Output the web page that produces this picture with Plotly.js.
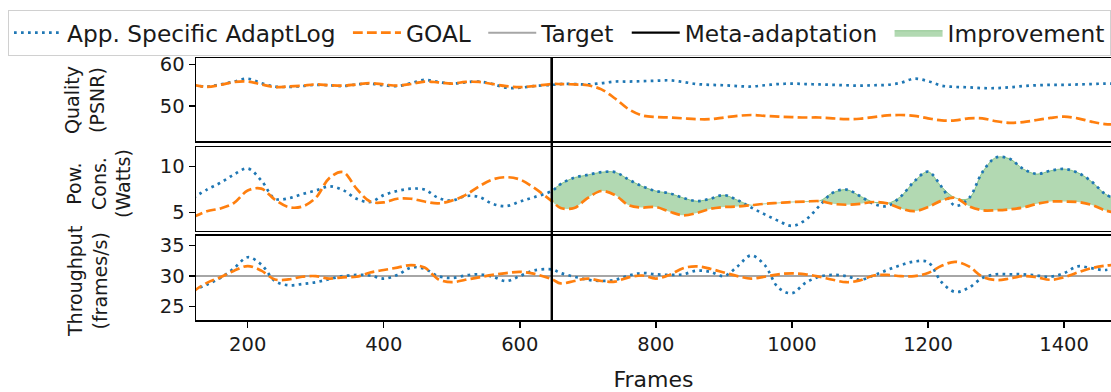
<!DOCTYPE html>
<html>
<head>
<meta charset="utf-8">
<script src="https://cdn.plot.ly/plotly-3.0.1.min.js"></script>
<style>html,body{margin:0;padding:0;background:#fff;}#chart{width:1111px;height:392px;}</style>
</head>
<body>
<div id="chart"></div>
<script>
// ---- data ----
const frames = [
  120,140,160,180,200,220,240,260,280,300,320,340,360,380,400,420,440,460,480,500,520,540,560,580,600,620,
  647,
  660,680,700,720,740,760,780,800,820,840,860,880,900,920,940,960,980,1000,1020,1040,
  1060,1080,1100,1120,1140,1160,1180,1200,1220,1240,1260,1280,1300,1320,1340,1360,1380,1400,1420,1440,1460,1480
];
const metaAdaptationFrame = 647;
const throughputTarget = 30;

const qualityAdaptLog = [
  55.0,54.7,55.2,55.9,56.6,55.5,54.7,54.6,54.8,55.1,55.0,54.8,55.2,55.4,55.0,54.8,55.5,56.3,55.8,55.4,55.7,55.9,55.3,54.4,54.4,54.8,
  55.1,
  55.3,55.3,55.2,55.5,55.9,55.9,56.0,56.1,56.2,55.8,55.3,55.1,55.0,54.8,54.7,55.0,55.3,55.4,55.3,55.2,
  55.1,55.0,54.9,55.0,55.1,55.6,56.6,56.0,54.9,54.6,54.5,54.3,54.3,54.5,54.8,55.0,55.1,55.1,55.2,55.3,55.4,55.4
];
const qualityGoal = [
  55.1,54.6,55.1,55.8,55.9,55.2,54.55,54.7,54.9,55.2,55.0,54.9,55.2,55.5,55.2,54.9,55.3,55.9,55.7,55.4,55.8,55.8,55.3,54.8,54.55,54.8,
  55.3,
  55.3,55.2,55.0,54.0,51.8,49.2,47.7,47.3,47.2,47.0,46.8,46.8,47.2,47.6,47.8,47.6,47.4,47.3,47.2,47.2,
  47.0,46.8,46.9,47.3,47.7,47.8,47.6,47.0,46.5,46.5,47.0,47.0,46.3,45.9,46.1,46.6,47.1,47.4,47.0,46.2,45.6,45.5
];
const powerAdaptLog = [
  6.6,7.5,8.25,9.15,9.8,8.5,6.5,6.55,7.0,7.4,7.85,7.45,6.5,6.15,6.9,7.35,7.6,7.5,6.6,6.3,6.8,6.7,5.95,5.7,6.2,6.65,
  7.35,
  8.1,8.8,9.1,9.4,9.4,8.6,7.85,7.35,7.1,6.6,6.25,6.5,6.9,6.35,5.55,4.8,4.1,3.55,4.2,5.7,
  7.15,7.5,6.8,5.95,5.7,6.75,8.4,9.45,7.8,5.75,6.55,9.4,11.0,10.85,9.75,9.2,9.55,9.75,9.35,8.4,7.05,6.3
];
const powerGoal = [
  4.5,5.15,5.45,6.05,7.4,7.6,6.4,5.6,5.65,6.6,8.75,9.4,7.6,6.2,6.1,6.5,6.5,6.2,6.0,6.3,6.9,7.85,8.6,8.85,8.6,7.75,
  6.25,
  5.5,5.5,6.6,7.35,6.9,5.8,5.55,5.6,5.1,4.7,4.95,5.4,5.6,5.65,5.8,5.95,6.05,6.15,6.2,6.25,
  5.95,5.85,5.95,6.15,6.0,5.45,5.15,5.6,6.3,6.6,5.7,5.25,5.25,5.35,5.55,5.95,6.2,6.2,6.15,5.85,5.25,4.9
];
const throughputAdaptLog = [
  27.7,28.6,29.7,31.3,33.1,31.9,29.2,28.5,28.7,29.0,29.5,30.0,30.2,30.1,29.6,30.2,31.4,31.2,30.0,29.7,30.1,30.3,29.9,29.2,30.0,30.9,
  31.1,
  30.5,29.9,29.4,29.2,29.4,30.1,30.5,30.3,30.2,30.3,30.9,30.7,30.0,31.6,33.4,31.8,28.1,27.2,28.9,29.9,
  30.2,30.0,29.4,30.1,31.0,31.8,32.4,32.3,29.0,27.4,28.1,29.7,30.3,30.3,30.3,30.1,29.9,30.5,31.6,31.3,31.0,31.5
];
const throughputGoal = [
  27.5,28.9,29.8,30.9,31.65,30.9,29.45,29.45,29.9,30.0,29.6,29.8,29.9,30.6,31.0,31.4,31.8,31.4,29.5,29.0,29.4,29.8,30.2,30.5,30.7,30.4,
  29.5,
  28.8,29.2,29.6,29.2,29.1,29.8,30.1,29.6,30.2,31.3,31.6,31.2,30.6,30.0,29.6,29.9,30.3,30.45,30.3,29.9,
  29.4,29.0,29.3,30.1,30.2,30.0,30.0,30.5,31.7,32.35,31.6,29.9,29.35,29.6,30.0,29.8,29.4,29.8,30.6,31.3,31.7,31.9
];

const xRange = [124, 1469];
const qualityRange = [41.5, 61.6];
const powerRange = [3.0, 12.1];
const throughputRange = [22.8, 36.6];

// ---- styles ----
const FONT = 'DejaVu Sans, sans-serif';
const BLUE = '#1f77b4', ORANGE = '#ff7f0e';
const blueLine = {color: BLUE, width: 2.7, dash: '2.7px,4.3px', shape: 'spline', smoothing: 1};
const orangeLine = {color: ORANGE, width: 2.7, dash: '9.8px,4.2px', shape: 'spline', smoothing: 1};
const metaLine = {color: '#000', width: 2.4};
const SP = '\u00a0'; // extra spacing after legend labels, as in the reference legend

// improvement region (after meta-adaptation, where AdaptLog consumes more than GOAL)
const impX = [], impLow = [], impHigh = [];
frames.forEach((f, i) => {
  if (f >= metaAdaptationFrame) {
    impX.push(f);
    impLow.push(powerGoal[i]);
    impHigh.push(Math.max(powerAdaptLog[i], powerGoal[i]));
  }
});

const traces = [
  // improvement fill (panel 2)
  {x: impX, y: impLow, xaxis: 'x2', yaxis: 'y2', mode: 'lines', showlegend: false, hoverinfo: 'skip',
   line: {width: 0, shape: 'spline', smoothing: 1}},
  {x: impX, y: impHigh, xaxis: 'x2', yaxis: 'y2', mode: 'lines', fill: 'tonexty', name: 'Improvement',
   legendrank: 5, fillcolor: 'rgba(0,128,0,0.3)', line: {width: 1, color: 'rgba(0,128,0,0.35)', shape: 'spline', smoothing: 1}},
  // target (panel 3)
  {x: xRange, y: [throughputTarget, throughputTarget], xaxis: 'x', yaxis: 'y', mode: 'lines', name: 'Target' + SP,
   legendrank: 3, line: {color: '#a6a6a6', width: 2}},
  // quality (panel 1)
  {x: frames, y: qualityAdaptLog, xaxis: 'x3', yaxis: 'y3', mode: 'lines', name: 'App. Specific AdaptLog' + SP, legendrank: 1, line: blueLine},
  {x: frames, y: qualityGoal, xaxis: 'x3', yaxis: 'y3', mode: 'lines', name: 'GOAL' + SP, legendrank: 2, line: orangeLine},
  // power (panel 2)
  {x: frames, y: powerAdaptLog, xaxis: 'x2', yaxis: 'y2', mode: 'lines', showlegend: false, line: blueLine},
  {x: frames, y: powerGoal, xaxis: 'x2', yaxis: 'y2', mode: 'lines', showlegend: false, line: orangeLine},
  // throughput (panel 3)
  {x: frames, y: throughputAdaptLog, xaxis: 'x', yaxis: 'y', mode: 'lines', showlegend: false, line: blueLine},
  {x: frames, y: throughputGoal, xaxis: 'x', yaxis: 'y', mode: 'lines', showlegend: false, line: orangeLine},
  // meta-adaptation (legend entry; the full-height line is a layout shape)
  {x: [metaAdaptationFrame, metaAdaptationFrame], y: qualityRange, xaxis: 'x3', yaxis: 'y3', mode: 'lines',
   name: 'Meta-adaptation' + SP, legendrank: 4, line: metaLine}
];

const axisCommon = {showline: true, linecolor: '#000', linewidth: 1.5, showgrid: false, zeroline: false,
  ticks: 'outside', ticklen: 6, tickwidth: 1.4, tickcolor: '#000',
  tickfont: {family: FONT, size: 19.5, color: '#1a1a1a'}};

const xHidden = Object.assign({}, axisCommon, {matches: 'x', range: xRange, mirror: true, ticks: '', showticklabels: false});

const L = 196, W = 915, T = 58, PH = 262;
const px2x = p => (p - L) / W;
const py2y = p => (T + PH - p) / PH;

const layout = {
  width: 1111, height: 392,
  margin: {l: L, r: 0, t: T, b: 392 - T - PH},
  paper_bgcolor: '#fff', plot_bgcolor: '#fff',
  font: {family: FONT, color: '#1a1a1a'},
  showlegend: true,
  legend: {orientation: 'h', x: px2x(12), xanchor: 'left', y: py2y(33), yanchor: 'middle',
    bgcolor: '#fff', bordercolor: '#d0d0d0', borderwidth: 1,
    font: {family: FONT, size: 23.3, color: '#1a1a1a'}, itemwidth: 48, traceorder: 'normal'},
  xaxis: Object.assign({}, axisCommon, {domain: [0, 1], anchor: 'y', range: xRange, mirror: true,
    tickvals: [200, 400, 600, 800, 1000, 1200, 1400],
    title: {text: 'Frames', font: {family: FONT, size: 22, color: '#1a1a1a'}, standoff: 20}}),
  xaxis2: Object.assign({}, xHidden, {anchor: 'y2'}),
  xaxis3: Object.assign({}, xHidden, {anchor: 'y3'}),
  yaxis: Object.assign({}, axisCommon, {domain: [0, 0.321], anchor: 'x', range: throughputRange, tickvals: [25, 30, 35]}),
  yaxis2: Object.assign({}, axisCommon, {domain: [0.340, 0.659], anchor: 'x2', range: powerRange, tickvals: [5, 10]}),
  yaxis3: Object.assign({}, axisCommon, {domain: [0.683, 1], anchor: 'x3', range: qualityRange, tickvals: [50, 60]}),
  shapes: [
    {type: 'line', xref: 'x', yref: 'paper', x0: metaAdaptationFrame, x1: metaAdaptationFrame, y0: 0, y1: 1,
     line: metaLine, layer: 'above'}
  ],
  annotations: [
    {text: 'Quality<br>(PSNR)', textangle: -90, xref: 'paper', yref: 'paper', x: px2x(84), y: py2y(100),
     showarrow: false, xanchor: 'center', yanchor: 'middle', font: {family: FONT, size: 19, color: '#1a1a1a'}},
    {text: 'Pow.<br>Cons.<br>(Watts)', textangle: -90, xref: 'paper', yref: 'paper', x: px2x(98), y: py2y(184),
     showarrow: false, xanchor: 'center', yanchor: 'middle', font: {family: FONT, size: 19, color: '#1a1a1a'}},
    {text: 'Throughput<br>(frames/s)', textangle: -90, xref: 'paper', yref: 'paper', x: px2x(87), y: py2y(282),
     showarrow: false, xanchor: 'center', yanchor: 'middle', font: {family: FONT, size: 19, color: '#1a1a1a'}}
  ]
};

Plotly.newPlot('chart', traces, layout, {displayModeBar: false, staticPlot: true});
</script>
</body>
</html>
